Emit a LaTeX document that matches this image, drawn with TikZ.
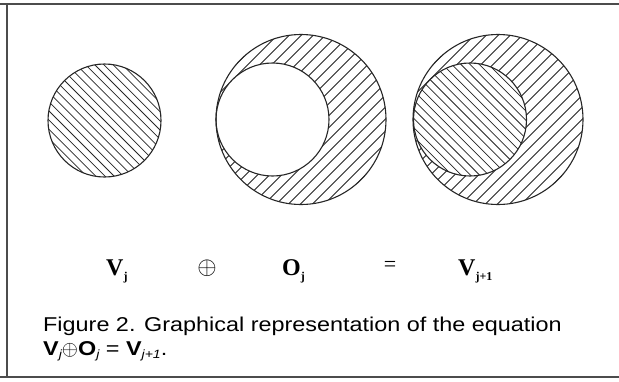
\documentclass[tikz,border=0pt]{standalone}
\usepackage{fontspec}
\setmainfont{Liberation Serif}
\newfontfamily\capfont[FakeStretch=1.17]{Liberation Sans}
\newcommand\lsub[1]{\raisebox{-5pt}{\fontsize{12}{12}\selectfont #1}}
\newcommand\csub[1]{\raisebox{-3.5pt}{\fontsize{12}{12}\selectfont\itshape #1}}
\begin{document}
\begin{tikzpicture}[x=1pt,y=-1pt,
  framel/.style={draw=black!70,line width=1.4pt},
  outline/.style={draw=black!85,line width=1.1pt},
  hatch/.style={draw=black!85,line width=0.75pt},
  lab/.style={font=\fontsize{24}{24}\selectfont\bfseries,inner sep=0pt,anchor=base west},
  captext/.style={font=\capfont\fontsize{20}{20}\selectfont,inner sep=0pt,anchor=base west}]
\useasboundingbox (0,0) rectangle (619,381);
\fill[white] (0,0) rectangle (619,381);
% frame
\draw[framel] (0,4) -- (619,4);
\draw[framel] (7,4) -- (7,377);
\draw[framel] (0,377) -- (619,377);
% circle 1: V_j
\begin{scope}
  \clip (104.5,120.5) circle[radius=56.5pt];
  \foreach \k in {-14,...,14} \draw[hatch] (104.5+\k*9.2-100,120.5-100) -- ++(200,200);
\end{scope}
\draw[outline] (104.5,120.5) circle[radius=56.5pt];
% circle 2: O_j
\begin{scope}
  \clip (301,119.5) circle[radius=85pt];
  \foreach \k in {-14,...,14} \draw[hatch] (301+\k*12-120,119.5+120) -- ++(240,-240);
\end{scope}
\fill[white] (272.5,119.5) circle[radius=56.5pt];
\draw[outline] (272.5,119.5) circle[radius=56.5pt];
\draw[outline] (301,119.5) circle[radius=85pt];
% circle 3: V_{j+1}
\begin{scope}
  \clip (498,119.5) circle[radius=85pt];
  \foreach \k in {-14,...,14} \draw[hatch] (498+\k*12-120,119.5+120) -- ++(240,-240);
\end{scope}
\fill[white] (470,119.5) circle[radius=56.5pt];
\begin{scope}
  \clip (470,119.5) circle[radius=56.5pt];
  \foreach \k in {-14,...,14} \draw[hatch] (470+\k*9.2-100,119.5-100) -- ++(200,200);
\end{scope}
\draw[outline] (470,119.5) circle[radius=56.5pt];
\draw[outline] (498,119.5) circle[radius=85pt];
% equation labels
\node[lab] (vj) at (106,275) {V\lsub{j}};
\node[inner sep=0pt,font=\fontsize{24}{24}\selectfont] (op) at (207,268) {$\oplus$};
\node[lab] (oj) at (282,275) {O\lsub{j}};
\node[inner sep=0pt,font=\fontsize{22}{22}\selectfont] (eq) at (390,266) {=};
\node[lab] (vj1) at (458,275) {V\lsub{j+1}};
% caption
\node[captext] (c1) at (43,331) {Figure 2. Graphical representation of the equation};
\node[captext] (c2) at (43,355) {\textbf{V}\csub{j}$\oplus$\textbf{O}\csub{j} = \textbf{V}\csub{j+1}.};
\end{tikzpicture}
\end{document}
